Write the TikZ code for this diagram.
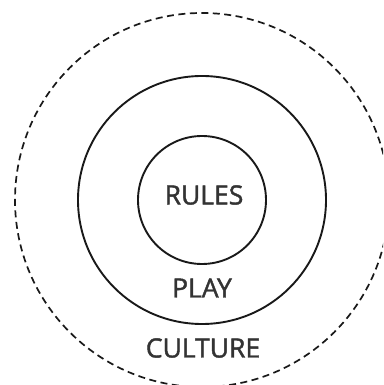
\documentclass[tikz,border=0pt]{standalone}
\usepackage{fontspec}
\setmainfont{Open Sans}[FakeBold=1.6]
\begin{document}
\begin{tikzpicture}[x=1pt,y=1pt,
  ring/.style={draw=black!90,line width=1.9pt},
  outerring/.style={draw=black!90,line width=1.7pt,dash pattern=on 7pt off 4.5pt},
  lbl/.style={font=\fontsize{26.5}{26.5}\selectfont,text=black!80,inner sep=0pt}]
  \useasboundingbox (0,0) rectangle (383,385);
  \clip (0,0) rectangle (383,385);
  \coordinate (c) at (202,185);
  \draw[outerring] (c) circle[radius=187];
  \draw[ring] (c) circle[radius=124];
  \draw[ring] (c) circle[radius=64];
  \node[lbl] (rules) at (204,190) {RULES};
  \node[lbl] (play) at (202,97) {PLAY};
  \node[lbl] (culture) at (203,37) {CULTURE};
\end{tikzpicture}
\end{document}
